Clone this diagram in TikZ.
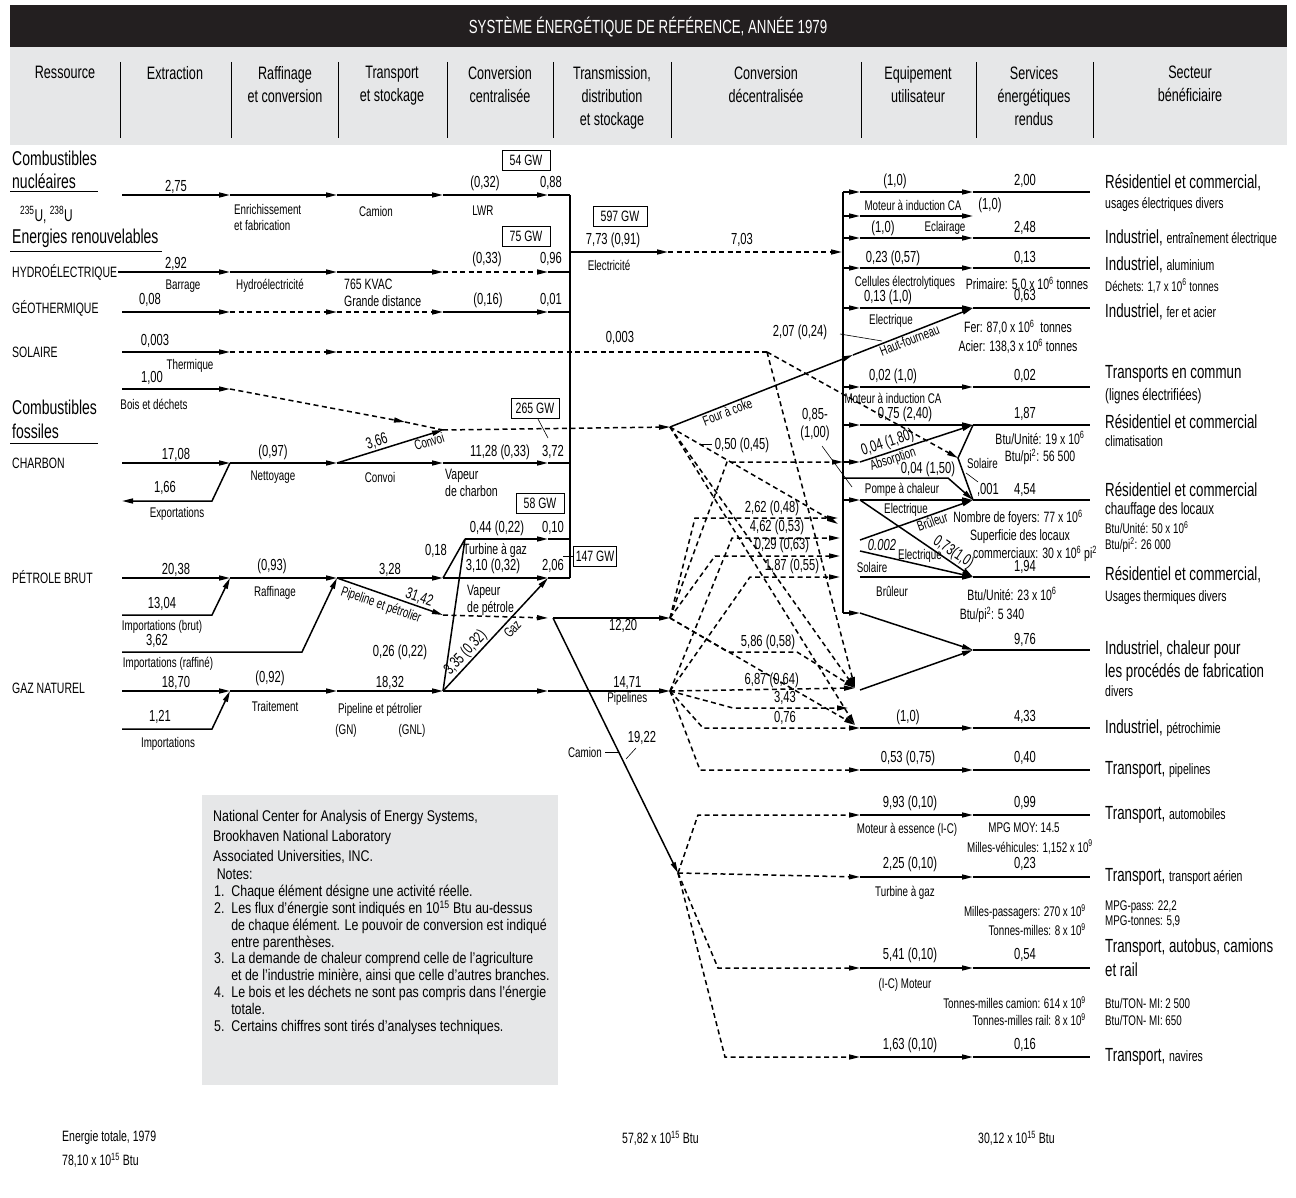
\documentclass[tikz,border=0pt]{standalone}
\usepackage{fontspec}
\setmainfont{Liberation Sans}[FakeStretch=0.7]
\newfontfamily\notefnt{Liberation Sans}[FakeStretch=0.8]
\usetikzlibrary{arrows.meta}
\usetikzlibrary{positioning}

\definecolor{barblack}{HTML}{231F20}
\definecolor{bandgray}{HTML}{E6E7E8}

\newcommand{\subfnt}{\fontsize{15}{17}\selectfont}
\newcommand{\tenp}[1]{\textsuperscript{#1}}

\tikzset{
  flow/.style={line width=1.5pt,-{Triangle[length=11pt,width=5pt]}},
  dflow/.style={flow,dash pattern=on 5pt off 3.5pt},
  seg/.style={line width=1.5pt},
  dseg/.style={seg,dash pattern=on 5pt off 3.5pt},
  lead/.style={line width=0.6pt},
  numl/.style={font=\fontsize{16}{18}\selectfont,inner sep=1pt},
  capt/.style={font=\fontsize{14}{16}\selectfont,inner sep=1pt},
  midl/.style={font=\fontsize{15}{17}\selectfont,inner sep=1pt},
  reslab/.style={font=\fontsize{20}{23}\selectfont,anchor=west,inner sep=0pt},
  capslab/.style={font=\fontsize{15}{18}\selectfont,anchor=west,inner sep=0pt},
  seclab/.style={font=\fontsize{19}{21}\selectfont,anchor=west,inner sep=0pt},
  sublabel/.style={font=\subfnt,anchor=west,inner sep=0pt},
  hdrlab/.style={font=\fontsize{18}{23}\selectfont,align=center,anchor=north,inner sep=0pt},
  totlab/.style={font=\fontsize{15}{17}\selectfont,anchor=west,inner sep=0pt},
  gwbox/.style={draw,line width=0.8pt,font=\fontsize{15}{17}\selectfont,inner sep=2pt,minimum width=48pt,minimum height=20pt}
}

\begin{document}
\begin{tikzpicture}[x=1pt,y=-1pt]
\useasboundingbox (0,0) rectangle (1296,1198);
\fill[white] (0,0) rectangle (1296,1198);

% title and column heads
\fill[barblack] (10,5) rectangle (1287,47);
\node[font=\fontsize{19}{21}\selectfont,text=white] (title) at (648,27) {SYSTÈME ÉNERGÉTIQUE DE RÉFÉRENCE, ANNÉE 1979};
\fill[bandgray] (10,47) rectangle (1287,145);
\foreach \xx in {120,231,338,447,553,671,861,976,1093}
  \draw[line width=0.8pt] (\xx,62) -- (\xx,138);
\node[hdrlab] (hres) at (65,66) {Ressource};
\node[hdrlab] (hext) at (175,66) {Extraction};
\node[hdrlab] (hraf) at (285,66) {Raffinage\\et conversion};
\node[hdrlab] (htra) at (392,66) {Transport\\et stockage};
\node[hdrlab] (hcen) at (500,66) {Conversion\\centralisée};
\node[hdrlab] (htrm) at (612,66) {Transmission,\\distribution\\et stockage};
\node[hdrlab] (hdec) at (766,66) {Conversion\\décentralisée};
\node[hdrlab] (hequ) at (918,66) {Equipement\\utilisateur};
\node[hdrlab] (hser) at (1034,66) {Services\\énergétiques\\rendus};
\node[hdrlab] (hsec) at (1190,66) {Secteur\\bénéficiaire};

% resources
\node[reslab] (cnuc1) at (12,158) {Combustibles};
\node[reslab] (cnuc2) at (12,181) {nucléaires};
\draw[line width=1pt] (10,192) -- (98,192);
\node[reslab,font=\fontsize{17}{19}\selectfont] (uran) at (20,215) {\tenp{235}U, \tenp{238}U};
\node[reslab] (renouv) at (12,238) {Energies renouvelables};
\draw[line width=1pt] (10,252) -- (162,252);
\node[capslab] (hydro) at (12,272) {HYDROÉLECTRIQUE};
\node[capslab] (geoth) at (12,308) {GÉOTHERMIQUE};
\node[capslab] (solaire) at (12,352) {SOLAIRE};
\node[reslab] (cfos1) at (12,407) {Combustibles};
\node[reslab] (cfos2) at (12,431) {fossiles};
\draw[line width=1pt] (10,443) -- (98,443);
\node[capslab] (charbon) at (12,463) {CHARBON};
\node[capslab] (petrole) at (12,577) {PÉTROLE BRUT};
\node[capslab] (gaznat) at (12,688) {GAZ NATUREL};

% left grid points
\foreach \rw/\yy in {nuc/195,hyd/272,geo/312,sol/352,bois/389,coal/463,oil/578,gas/691}
  \foreach \cl/\xx in {a/122,b/230,c/337,d/443,e/548,f/570}
    \coordinate (\rw\cl) at (\xx,\yy);

% nuclear
\draw[flow] (nuca) -- node[numl,above] (n275) {2,75} (nucb);
\draw[flow] (nucb) -- (nucc);
\draw[flow] (nucc) -- (nucd);
\draw[flow] (nucd) -- (nuce);
\draw[seg] (nuce) -- (nucf);
\node[capt,anchor=north west,align=left] (enrich) at (233,203) {Enrichissement\\et fabrication};
\node[capt] (camion) at (376,211) {Camion};
\node[numl] (n032) at (485,183) {(0,32)};
\node[numl] (n088) at (551,183) {0,88};
\node[capt] (lwr) at (483,211) {LWR};
\node[gwbox] (gw54) at (526,160) {54 GW};

% hydro
\draw[seg] (118,272) -- (hyda);
\draw[flow] (hyda) -- node[numl,above] (n292) {2,92} (hydb);
\draw[flow] (hydb) -- (hydc);
\draw[flow] (hydc) -- (hydd);
\draw[dflow] (hydd) -- (hyde);
\draw[seg] (hyde) -- (hydf);
\node[capt] (barrage) at (183,286) {Barrage};
\node[capt] (hydroel) at (270,286) {Hydroélectricité};
\node[midl,anchor=west] (kvac) at (343,284) {765 KVAC};
\node[midl,anchor=west] (grdist) at (343,301) {Grande distance};
\node[numl] (n033) at (487,259) {(0,33)};
\node[numl] (n096) at (551,259) {0,96};
\node[gwbox] (gw75) at (526,236) {75 GW};

% geothermal
\draw[flow] (geoa) -- (geob);
\draw[dflow] (geob) -- (geoc);
\draw[dflow] (geoc) -- (geod);
\draw[flow] (geod) -- (geoe);
\draw[seg] (geoe) -- (geof);
\node[numl] (n008) at (150,300) {0,08};
\node[numl] (n016) at (488,300) {(0,16)};
\node[numl] (n001) at (551,300) {0,01};

% solar
\coordinate (solk) at (767,352);
\draw[flow] (sola) -- (solb);
\draw[dflow] (solb) -- (solc);
\draw[dseg] (solc) -- (solk);
\node[numl] (n0003a) at (155,341) {0,003};
\node[capt] (thermiq) at (190,366) {Thermique};
\node[numl] (n0003b) at (620,338) {0,003};

% wood and coal
\coordinate (cv) at (443,430);
\coordinate (cvm) at (405,422);
\coordinate (coke) at (670,427);
\draw[flow] (boisa) -- (boisb);
\draw[dflow] (boisb) -- (cvm);
\draw[dseg] (cvm) -- (cv);
\draw[dflow] (cv) -- (coke);
\node[numl] (n100) at (152,378) {1,00};
\node[capt] (boisdech) at (154,404) {Bois et déchets};
\node[gwbox] (gw265) at (535,408) {265 GW};
\draw[lead] (538,419) -- (548,438);

\coordinate (expk) at (212,501);
\coordinate (expa) at (122,501);
\draw[flow] (coala) -- node[numl,above] (n1708) {17,08} (coalb);
\draw[flow] (coalb) -- (expk) -- (expa);
\node[numl] (n166) at (165,488) {1,66};
\node[capt] (export) at (177,514) {Exportations};
\draw[flow] (coalb) -- (coalc);
\node[numl] (n097) at (273,452) {(0,97)};
\node[capt] (nettoy) at (273,477) {Nettoyage};
\draw[flow] (coalc) -- (coald);
\node[capt] (convoi) at (380,477) {Convoi};
\draw[flow] (coalc) -- node[numl,sloped,above,pos=0.4] (n366) {3,66} node[capt,sloped,below,pos=0.85] (convoi2) {Convoi} (cv);
\draw[flow] (coald) -- (coale);
\draw[seg] (coale) -- (coalf);
\node[numl] (n1128) at (500,452) {11,28 (0,33)};
\node[numl] (n372) at (553,452) {3,72};
\node[midl,anchor=north west,align=left] (vapch) at (444,468) {Vapeur\\de charbon};

% turbine
\coordinate (tg) at (465,539);
\coordinate (tge) at (548,539);
\coordinate (tgf) at (570,539);
\draw[flow] (tg) -- (tge);
\draw[seg] (tge) -- (tgf);
\draw[seg] (oild) -- (tg);
\draw[seg] (gasd) -- (tg);
\node[numl] (n044) at (497,528) {0,44 (0,22)};
\node[numl] (n010) at (553,528) {0,10};
\node[midl] (turbg) at (495,551) {Turbine à gaz};
\node[numl] (n018) at (436,551) {0,18};
\node[gwbox] (gw58) at (540,503) {58 GW};

% crude oil
\coordinate (oimpa) at (122,615);
\coordinate (oimpk) at (212,615);
\coordinate (orafa) at (122,652);
\coordinate (orafk) at (302,652);
\coordinate (pp) at (443,615);
\coordinate (ppe) at (548,618);
\draw[flow] (oila) -- node[numl,above] (n2038) {20,38} (oilb);
\draw[flow] (oimpa) -- (oimpk) -- (oilb);
\node[numl] (n1304) at (162,604) {13,04};
\node[capt] (impbrut) at (162,627) {Importations (brut)};
\draw[flow] (oilb) -- (oilc);
\node[numl] (n093) at (272,566) {(0,93)};
\node[capt] (raffin) at (275,593) {Raffinage};
\draw[flow] (orafa) -- (orafk) -- (oilc);
\node[numl] (n362) at (157,641) {3,62};
\node[capt] (impraf) at (168,664) {Importations (raffiné)};
\draw[flow] (oilc) -- node[numl,above] (n328) {3,28} (oild);
\draw[flow] (oilc) -- node[numl,sloped,above,pos=0.75] (n3142) {31,42} node[capt,sloped,below=3pt,pos=0.45] (pipet) {Pipeline et pétrolier} (pp);
\draw[dflow] (pp) -- (ppe);
\draw[flow] (oild) -- (oile);
\draw[seg] (oile) -- (oilf);
\node[numl] (n310) at (493,566) {3,10 (0,32)};
\node[numl] (n206) at (553,566) {2,06};
\node[gwbox,minimum width=42pt] (gw147) at (595,556) {147 GW};
\draw[lead] (563,556) -- (gw147.west);
\node[midl,anchor=north west,align=left] (vappet) at (466,584) {Vapeur\\de pétrole};
\node[numl] (n026) at (400,652) {0,26 (0,22)};

% natural gas
\coordinate (gimpa) at (122,729);
\coordinate (gimpk) at (212,729);
\draw[flow] (gasa) -- node[numl,above] (n1870) {18,70} (gasb);
\draw[flow] (gimpa) -- (gimpk) -- (gasb);
\node[numl] (n121) at (160,717) {1,21};
\node[capt] (impgaz) at (168,744) {Importations};
\draw[flow] (gasb) -- (gasc);
\node[numl] (n092) at (270,678) {(0,92)};
\node[capt] (traitem) at (275,706) {Traitement};
\draw[flow] (gasc) -- node[numl,above] (n1832) {18,32} (gasd);
\node[capt] (pipegn) at (380,710) {Pipeline et pétrolier};
\node[capt] (gn) at (346,731) {(GN)};
\node[capt] (gnl) at (412,731) {(GNL)};
\draw[flow] (gasd) -- (gase);
\draw[flow] (gasd) -- node[numl,sloped,above,pos=0.28] (n335) {3,35 (0,32)} node[capt,sloped,below=2pt,pos=0.6] (gazl) {Gaz} (oile);

% central bus and electricity
\draw[seg] (nucf) -- (oilf);
\coordinate (el0) at (570,252);
\coordinate (el1) at (668,252);
\coordinate (el2) at (842,252);
\draw[flow] (el0) -- (el1);
\draw[dflow] (el1) -- (el2);
\node[numl] (n773) at (613,240) {7,73 (0,91)};
\node[capt] (electr) at (609,265) {Electricité};
\node[numl] (n703) at (742,240) {7,03};
\node[gwbox,minimum width=54pt] (gw597) at (620,216) {597 GW};

% oil products, pipelines, truck
\coordinate (op0) at (553,618);
\coordinate (oilp) at (670,618);
\coordinate (gasp) at (670,691);
\coordinate (trk) at (678,873);
\draw[flow] (op0) -- node[numl,below,pos=0.6] (n1220) {12,20} (oilp);
\draw[flow] (op0) -- (trk);
\draw[flow] (gase) -- node[numl,above,pos=0.65] (n1471) {14,71} node[capt,below,pos=0.65] (pipel) {Pipelines} (gasp);
\node[capt] (camion2) at (585,752) {Camion};
\draw[lead] (605,752) -- (619,752);
\node[numl] (n1922) at (642,738) {19,22};
\draw[lead] (636,748) -- (626,759);

% right grid points
\foreach \rw/\yy in {ra/192,rb/216,rc/238,rd/268,re/308,rf/387,rg/425,rh/462,rj/500,rl/577,rm/613,rn/728,ro/770,rp/815,rq/877,rr/968,rs/1057}
  \foreach \cl/\xx in {0/843,1/860,2/973,3/1090}
    \coordinate (\rw\cl) at (\xx,\yy);

\draw[seg] (ra0) -- (rm0);
\foreach \rw in {ra,rb,rc,rd,re,rf,rg,rh,rj,rm}
  \draw[flow] (\rw0) -- (\rw1);
\foreach \rw in {ra,rc,rd,re,rf,rg,rj,rl,rn,ro,rp,rq,rr,rs} {
  \draw[flow] (\rw1) -- (\rw2);
  \draw[seg] (\rw2) -- (\rw3);
}
\draw[flow] (rb1) -- (rb2);

% coke oven and blast furnace
\coordinate (cokm) at (853,355);
\draw[flow] (coke) -- node[capt,sloped,below,pos=0.3] (fourc) {Four à coke} (cokm);
\draw[flow] (cokm) -- node[capt,sloped,below,pos=0.45] (hautf) {Haut-fourneau} (re2);
\node[numl] (n207) at (800,332) {2,07 (0,24)};
\draw[lead] (840,334) -- (882,341);

% absorption, solar, heat pump
\coordinate (solv) at (958,458);
\draw[flow] (rh1) -- node[numl,sloped,above,pos=0.27] (n004a) {0,04 (1,80)} node[capt,sloped,below,pos=0.27] (absorp) {Absorption} (rg2);
\draw[seg] (rg2) -- (solv) -- (rj2);
\draw[dflow] (solk) -- (solv);
\node[capt,anchor=west] (solair1) at (966,463) {Solaire};
\coordinate (hp0) at (843,478);
\coordinate (hp1) at (948,478);
\draw[flow] (hp0) -- (hp1) -- (rj2);
\node[numl] (n004b) at (928,469) {0,04 (1,50)};
\node[capt] (pompe) at (902,490) {Pompe à chaleur};
\node[numl] (n001b) at (988,490) {,001};
\draw[lead] (978,482) -- (966,473);
\node[numl,align=center] (n085) at (815,425) {0,85-\\(1,00)};
\draw[lead] (822,446) -- (852,487);

% burners
\coordinate (br0) at (860,540);
\coordinate (ek0) at (860,551);
\draw[flow] (br0) -- node[capt,sloped,below,pos=0.62] (brul1) {Brûleur} (rj2);
\draw[flow] (rj1) -- node[numl,sloped,above,pos=0.78] (n073) {0,73(1,0)} (rl2);
\draw[flow] (ek0) -- (rl2);
\node[capt] (elec1) at (906,510) {Electrique};
\node[numl,font=\fontsize{16}{18}\selectfont\itshape] (n0002) at (882,545) {0.002};
\node[capt] (elec2) at (920,556) {Electrique};
\node[capt] (solair2) at (872,567) {Solaire};
\node[capt] (brul2) at (892,591) {Brûleur};

% industrial heat
\coordinate (heat) at (973,650);
\coordinate (heatin) at (860,690);
\coordinate (heatend) at (1090,650);
\draw[flow] (rm1) -- (heat);
\draw[flow] (heatin) -- (heat);
\draw[seg] (heat) -- (heatend);

% decentralised fuel flows
\coordinate (d1k) at (695,518);
\coordinate (d1e) at (838,518);
\coordinate (d2k) at (732,538);
\coordinate (d2e) at (840,538);
\coordinate (d3k) at (715,556);
\coordinate (d3e) at (840,556);
\coordinate (d4k) at (750,577);
\coordinate (d4e) at (840,577);
\coordinate (abk) at (727,462);
\coordinate (cokr) at (838,524);
\coordinate (petro) at (855,725);
\coordinate (heatd) at (855,688);
\draw[dflow] (oilp) -- (d1k) -- (d1e);
\draw[dflow] (gasp) -- (d2k) -- (d2e);
\draw[dflow] (oilp) -- (d3k) -- (d3e);
\draw[dflow] (gasp) -- (d4k) -- (d4e);
\draw[dflow] (oilp) -- (abk) -- (rh0);
\draw[dflow] (coke) -- (cokr);
\draw[dflow] (coke) -- (heatd);
\draw[dflow] (coke) -- (petro);
\draw[dflow] (solk) -- (heatd);
\node[numl] (n262) at (772,508) {2,62 (0,48)};
\node[numl] (n462) at (777,527) {4,62 (0,53)};
\node[numl] (n029) at (782,545) {0,29 (0,63)};
\node[numl] (n187) at (792,566) {1,87 (0,55)};
\node[numl] (n050) at (742,445) {0,50 (0,45)};
\draw[lead] (700,444) -- (712,444);

\coordinate (p586a) at (728,652);
\coordinate (p586b) at (797,652);
\coordinate (p343) at (733,708);
\coordinate (p343e) at (848,708);
\coordinate (p076) at (703,728);
\coordinate (pipek) at (700,770);
\draw[dflow] (oilp) -- (p586a) -- (p586b) -- (heatd);
\draw[dflow] (oilp) -- (petro);
\draw[dflow] (gasp) -- node[numl,above,pos=0.55] (n687) {6,87 (0,64)} (heatd);
\draw[dflow] (gasp) -- (p343) -- (p343e);
\draw[dflow] (gasp) -- (p076) -- (rn1);
\draw[dflow] (gasp) -- (pipek) -- (ro1);
\node[numl] (n586) at (768,642) {5,86 (0,58)};
\node[numl] (n343) at (785,698) {3,43};
\node[numl] (n076) at (785,718) {0,76};

% transport fan
\coordinate (tpk) at (698,815);
\coordinate (tbk) at (718,968);
\coordinate (tsk) at (725,1057);
\draw[dflow] (trk) -- (tpk) -- (rp1);
\draw[dflow] (trk) -- (rq1);
\draw[dflow] (trk) -- (tbk) -- (rr1);
\draw[dflow] (trk) -- (tsk) -- (rs1);

% equipment and service labels
\node[numl] (la1) at (895,181) {(1,0)};
\node[numl] (la2) at (1025,181) {2,00};
\node[capt] (lb1) at (913,205) {Moteur à induction CA};
\node[numl] (lb2) at (990,205) {(1,0)};
\node[numl] (lc1) at (883,228) {(1,0)};
\node[capt] (lc2) at (945,228) {Eclairage};
\node[numl] (lc3) at (1025,228) {2,48};
\node[numl] (ld1) at (893,258) {0,23 (0,57)};
\node[numl] (ld2) at (1025,258) {0,13};
\node[capt] (ld3) at (905,283) {Cellules électrolytiques};
\node[midl] (ld4) at (1027,284) {Primaire: 5,0 x 10\tenp{6} tonnes};
\node[numl] (le1) at (888,297) {0,13 (1,0)};
\node[numl] (le2) at (1025,296) {0,63};
\node[capt] (le3) at (891,321) {Electrique};
\node[midl] (le4) at (1018,327) {Fer: 87,0 x 10\tenp{6}~ tonnes};
\node[midl] (le5) at (1018,346) {Acier: 138,3 x 10\tenp{6} tonnes};
\node[numl] (lf1) at (893,376) {0,02 (1,0)};
\node[numl] (lf2) at (1025,376) {0,02};
\node[capt] (lf3) at (893,398) {Moteur à induction CA};
\node[numl] (lg1) at (905,414) {0,75 (2,40)};
\node[numl] (lg2) at (1025,414) {1,87};
\node[midl] (lg3) at (1040,438) {Btu/Unité: 19 x 10\tenp{6}};
\node[midl] (lg4) at (1040,457) {Btu/pi\tenp{2}: 56 500};
\node[numl] (lj1) at (1025,490) {4,54};
\node[midl] (lj2) at (1018,518) {Nombre de foyers: 77 x 10\tenp{6}};
\node[midl] (lj3) at (1020,537) {Superficie des locaux};
\node[midl] (lj4) at (1035,554) {commerciaux: 30 x 10\tenp{6} pi\tenp{2}};
\node[numl] (ll1) at (1025,567) {1,94};
\node[midl] (ll2) at (1012,594) {Btu/Unité: 23 x 10\tenp{6}};
\node[midl] (ll3) at (992,615) {Btu/pi\tenp{2}: 5 340};
\node[numl] (lm1) at (1025,640) {9,76};
\node[numl] (ln1) at (908,717) {(1,0)};
\node[numl] (ln2) at (1025,717) {4,33};
\node[numl] (lo1) at (908,758) {0,53 (0,75)};
\node[numl] (lo2) at (1025,758) {0,40};
\node[numl] (lp1) at (910,803) {9,93 (0,10)};
\node[numl] (lp2) at (1025,803) {0,99};
\node[capt] (lp3) at (907,830) {Moteur à essence (I-C)};
\node[capt] (lp4) at (1024,828) {MPG MOY: 14.5};
\node[capt] (lp5) at (1030,847) {Milles-véhicules: 1,152 x 10\tenp{9}};
\node[numl] (lq1) at (910,864) {2,25 (0,10)};
\node[numl] (lq2) at (1025,864) {0,23};
\node[capt] (lq3) at (905,893) {Turbine à gaz};
\node[capt,anchor=east] (lq4) at (1087,912) {Milles-passagers: 270 x 10\tenp{9}};
\node[capt,anchor=east] (lq5) at (1087,930) {Tonnes-milles: 8 x 10\tenp{9}};
\node[capt,anchor=west] (lq6) at (1104,907) {MPG-pass: 22,2};
\node[capt,anchor=west] (lq7) at (1104,922) {MPG-tonnes: 5,9};
\node[numl] (lr1) at (910,955) {5,41 (0,10)};
\node[numl] (lr2) at (1025,955) {0,54};
\node[capt] (lr3) at (905,985) {(I-C) Moteur};
\node[capt,anchor=east] (lr4) at (1087,1003) {Tonnes-milles camion: 614 x 10\tenp{9}};
\node[capt,anchor=east] (lr5) at (1087,1020) {Tonnes-milles rail: 8 x 10\tenp{9}};
\node[capt,anchor=west] (lr6) at (1104,1003) {Btu/TON- MI: 2 500};
\node[capt,anchor=west] (lr7) at (1104,1020) {Btu/TON- MI: 650};
\node[numl] (ls1) at (910,1045) {1,63 (0,10)};
\node[numl] (ls2) at (1025,1045) {0,16};

% sectors
\node[seclab] (s1) at (1105,183) {Résidentiel et commercial,};
\node[sublabel] (s1b) at (1105,205) {usages électriques divers};
\node[seclab] (s2) at (1105,238) {Industriel, {\subfnt entraînement électrique}};
\node[seclab] (s3) at (1105,265) {Industriel, {\subfnt aluminium}};
\node[capt,anchor=west,inner sep=0pt] (s3b) at (1105,286) {Déchets: 1,7 x 10\tenp{6} tonnes};
\node[seclab] (s4) at (1105,312) {Industriel, {\subfnt fer et acier}};
\node[seclab] (s5) at (1105,374) {Transports en commun};
\node[sublabel,font=\fontsize{16.5}{18}\selectfont] (s5b) at (1105,396) {(lignes électrifiées)};
\node[seclab] (s6) at (1105,422) {Résidentiel et commercial};
\node[sublabel] (s6b) at (1105,441) {climatisation};
\node[seclab] (s7) at (1105,490) {Résidentiel et commercial};
\node[sublabel,font=\fontsize{16.5}{18}\selectfont] (s7b) at (1105,510) {chauffage des locaux};
\node[capt,anchor=west,inner sep=0pt] (s7c) at (1105,528) {Btu/Unité: 50 x 10\tenp{6}};
\node[capt,anchor=west,inner sep=0pt] (s7d) at (1105,545) {Btu/pi\tenp{2}: 26 000};
\node[seclab] (s8) at (1105,575) {Résidentiel et commercial,};
\node[sublabel] (s8b) at (1105,598) {Usages thermiques divers};
\node[seclab] (s9) at (1105,650) {Industriel, chaleur pour};
\node[seclab] (s9b) at (1105,672) {les procédés de fabrication};
\node[sublabel] (s9c) at (1105,691) {divers};
\node[seclab] (s10) at (1105,728) {Industriel, {\subfnt pétrochimie}};
\node[seclab] (s11) at (1105,770) {Transport, {\subfnt pipelines}};
\node[seclab] (s12) at (1105,815) {Transport, {\subfnt automobiles}};
\node[seclab] (s13) at (1105,877) {Transport, {\subfnt transport aérien}};
\node[seclab] (s14) at (1105,948) {Transport, autobus, camions};
\node[seclab] (s14b) at (1105,970) {et rail};
\node[seclab] (s15) at (1105,1057) {Transport, {\subfnt navires}};

% notes
\fill[bandgray] (202,795) rectangle (558,1085);
\node[anchor=north west,align=left,font=\notefnt\fontsize{15.5}{20}\selectfont,inner sep=0pt] (ncenter) at (213,810) {National Center for Analysis of Energy Systems,\\Brookhaven National Laboratory\\Associated Universities, INC.};
\node[anchor=north west,align=left,font=\notefnt\fontsize{15.5}{16.8}\selectfont,inner sep=0pt] (notes) at (214,869) {\,Notes:\\
1.\ \ Chaque élément désigne une activité réelle.\\
2.\ \ Les flux d’énergie sont indiqués en 10\tenp{15} Btu au-dessus\\
\hspace*{1.1em}de chaque élément. Le pouvoir de conversion est indiqué\\
\hspace*{1.1em}entre parenthèses.\\
3.\ \ La demande de chaleur comprend celle de l’agriculture\\
\hspace*{1.1em}et de l’industrie minière, ainsi que celle d’autres branches.\\
4.\ \ Le bois et les déchets ne sont pas compris dans l’énergie\\
\hspace*{1.1em}totale.\\
5.\ \ Certains chiffres sont tirés d’analyses techniques.};

% totals
\node[totlab] (etot) at (62,1138) {Energie totale, 1979};
\node[totlab] (etotv) at (62,1160) {78,10 x 10\tenp{15} Btu};
\node[totlab] (emid) at (622,1138) {57,82 x 10\tenp{15} Btu};
\node[totlab] (eend) at (978,1138) {30,12 x 10\tenp{15} Btu};
\end{tikzpicture}
\end{document}
